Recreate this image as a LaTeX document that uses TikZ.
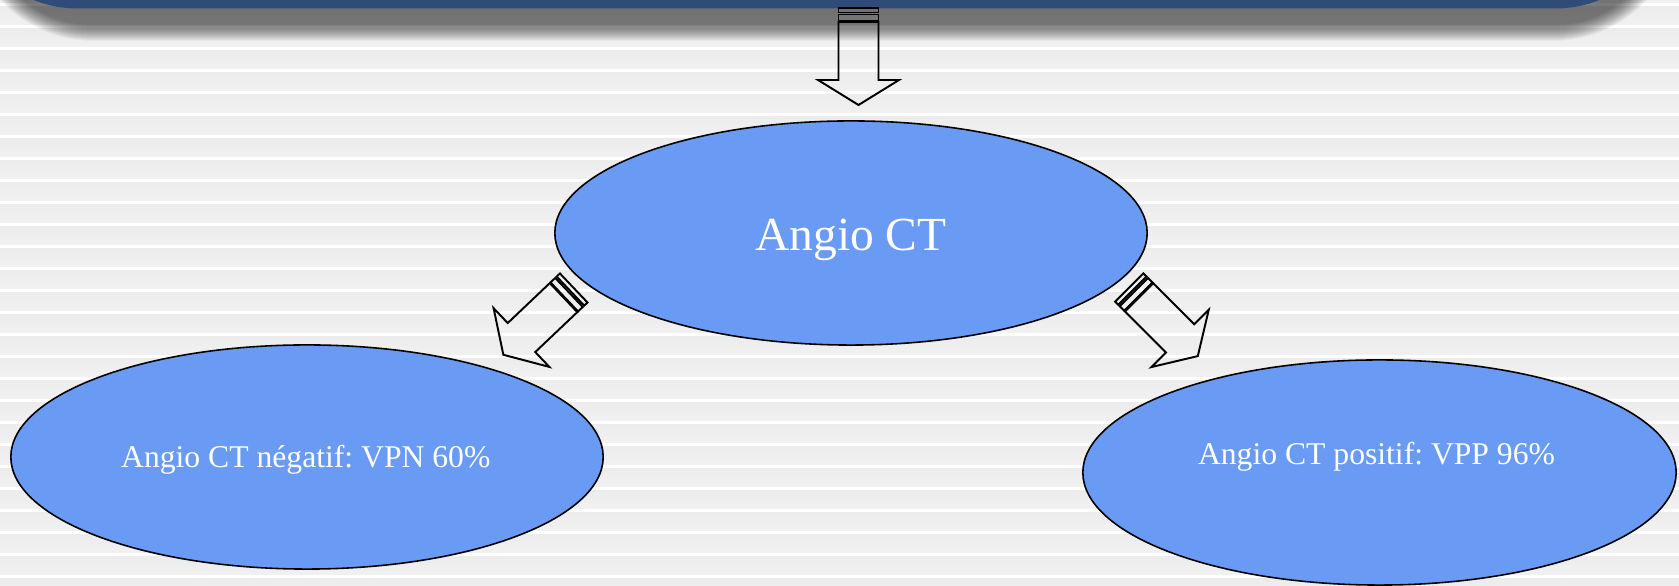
\documentclass[tikz,border=0pt]{standalone}
\usepackage{fontspec}
\setmainfont{Liberation Serif}
\usetikzlibrary{shapes.geometric}
\frenchspacing

\definecolor{barblue}{RGB}{47,75,122}
\definecolor{ovalblue}{RGB}{106,155,244}
\definecolor{stripelight}{RGB}{236,236,236}
\definecolor{stripedark}{RGB}{227,227,227}
\definecolor{stripepale}{RGB}{241,241,241}

\tikzset{
	oval/.style = {ellipse, draw = black, line width = 0.45pt, fill = ovalblue, inner sep = 0pt, minimum width = 5.92cm, minimum height = 2.24cm},
	oval text/.style = {text = white, anchor = base, inner sep = 0pt, font = \fontsize{9}{11}\selectfont},
	stripes arrow/.pic = {
		\draw (0, -20) rectangle (4.5, 20);
		\draw (6.5, -20) rectangle (13, 20);
		\draw (14, -20) -- (72, -20) -- (72, -40.5) -- (97, 0) -- (72, 40.5) -- (72, 20) -- (14, 20) -- cycle;}
}

\begin{document}
\begin{tikzpicture}[x = 0.01cm, y = -0.01cm, line width = 0.4pt]
	\useasboundingbox (0, 0) rectangle (1679, 586);
	\clip (0, 0) rectangle (1679, 586);
	% striped background
	\fill[white] (0, 0) rectangle (1679, 586);
	\foreach \k in {-1, 0, ..., 26}{
		\shade[top color = stripelight, middle color = stripedark, bottom color = stripepale] (0, 6.5 + 22 * \k) rectangle (1679, 25 + 22 * \k);}
	% soft shadow under the title bar
	\foreach \k [evaluate = \k as \r using 1.12 + 0.01 * \k] in {0, ..., 16}{
		\fill[black, opacity = 0.041, rounded corners = \r cm] (-18 - \k, -200) rectangle (1665 + \k, 25 + \k);}
	% title bar
	\fill[barblue, rounded corners = 1.2cm] (-42, -200) rectangle (1675, 8.5);
	% block arrows
	\foreach \x/\y/\a in {858.5/8/-90, 573.7/288/-136.5, 1129.2/287.5/-45}{
		\pic[rotate = \a, line width = 0.55pt] at (\x, \y) {stripes arrow};}
	% ovals
	\node[oval] (angio) at (851, 233) {};
	\node[oval] (negatif) at (307, 457) {};
	\node[oval, minimum width = 5.93cm, minimum height = 2.25cm] (positif) at (1379.5, 472.5) {};
	\node[oval text, font = \fontsize{13.5}{16}\selectfont] (angio text) at (851, 250.7) {Angio CT};
	\node[oval text] (negatif text) at (305.8, 467.3) {Angio CT négatif: VPN 60\%};
	\node[oval text] (positif text) at (1376.5, 465) {Angio CT positif: VPP 96\%};
\end{tikzpicture}
\end{document}
